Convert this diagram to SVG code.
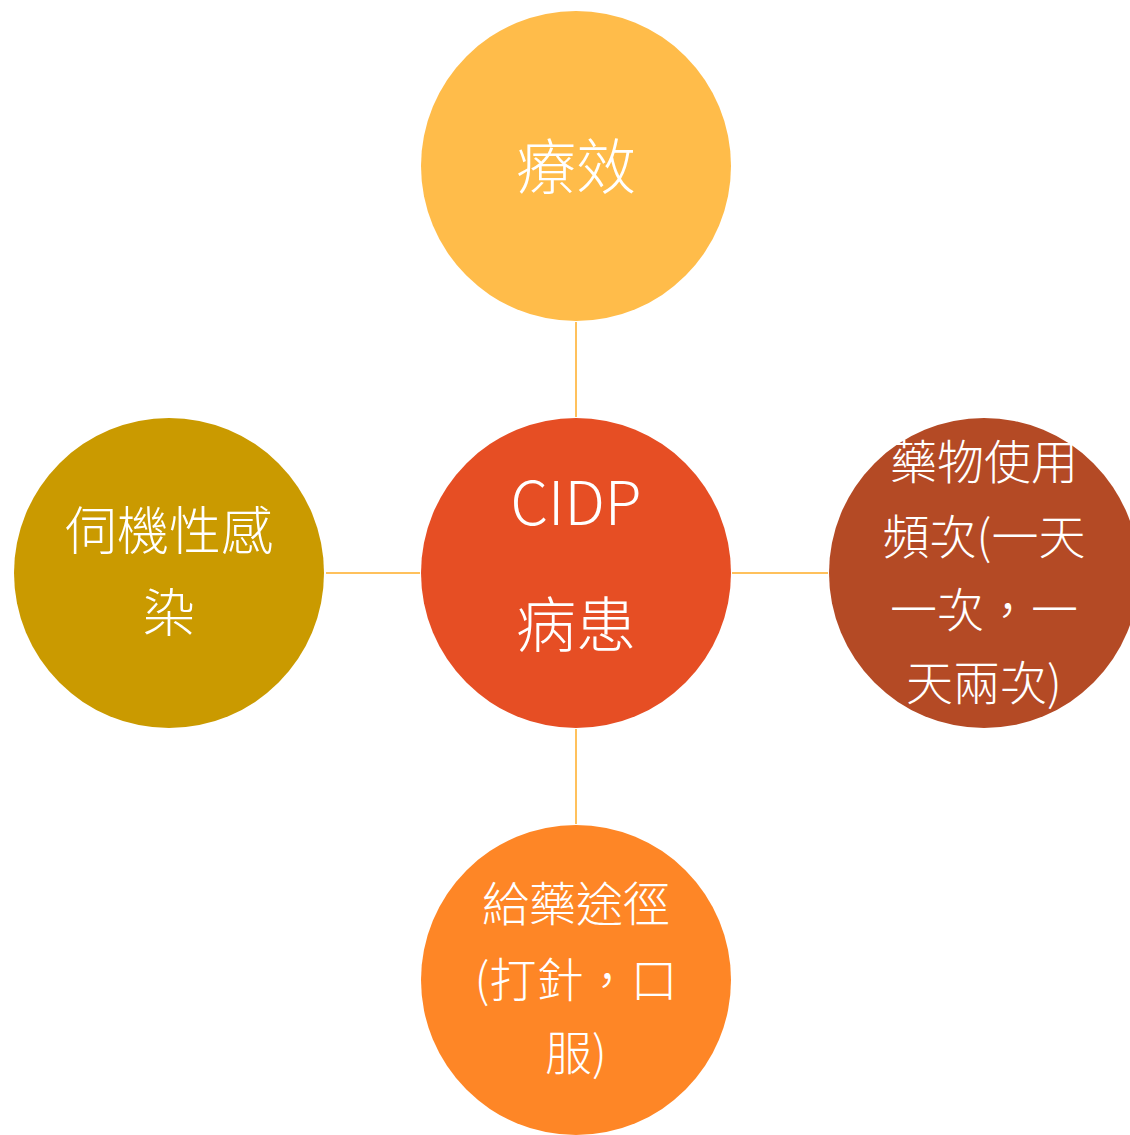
<svg xmlns="http://www.w3.org/2000/svg" width="1130" height="1135" viewBox="0 0 1130 1135">
<style>
.t{fill:#ffffff;font-family:"Noto Sans CJK TC","Noto Sans",sans-serif;font-weight:300;text-anchor:middle;}
.c{stroke:#FFC15C;stroke-width:2;fill:none;}
</style>
<rect width="1130" height="1135" fill="#ffffff"/>
<g id="connectors">
<line class="c" x1="576" y1="322" x2="576" y2="417"/>
<line class="c" x1="576" y1="729" x2="576" y2="824"/>
<line class="c" x1="326" y1="573" x2="420" y2="573"/>
<line class="c" x1="732" y1="573" x2="828" y2="573"/>
</g>
<g id="node-top">
<circle cx="576" cy="166" r="155" fill="#FFBC4A"/>
<text class="t" x="576" y="189" font-size="60">療效</text>
</g>
<g id="node-center">
<circle cx="576" cy="573" r="155" fill="#E64E24"/>
<text class="t" x="576" y="525" font-size="60">CIDP</text>
<text class="t" x="576" y="647" font-size="60">病患</text>
</g>
<g id="node-left">
<circle cx="169" cy="573" r="155" fill="#CA9A00"/>
<text class="t" x="169" y="550" font-size="52">伺機性感</text>
<text class="t" x="169" y="632" font-size="52">染</text>
</g>
<g id="node-right">
<circle cx="984" cy="573" r="155" fill="#B44A25"/>
<text class="t" x="984" y="479" font-size="47">藥物使用</text>
<text class="t" x="984" y="554" font-size="47">頻次(一天</text>
<text class="t" x="984" y="627" font-size="47">一次，一</text>
<text class="t" x="984" y="700" font-size="47">天兩次)</text>
</g>
<g id="node-bottom">
<circle cx="576" cy="980" r="155" fill="#FE8626"/>
<text class="t" x="576" y="921" font-size="47">給藥途徑</text>
<text class="t" x="576" y="997" font-size="47">(打針，口</text>
<text class="t" x="576" y="1070" font-size="47">服)</text>
</g>
</svg>
